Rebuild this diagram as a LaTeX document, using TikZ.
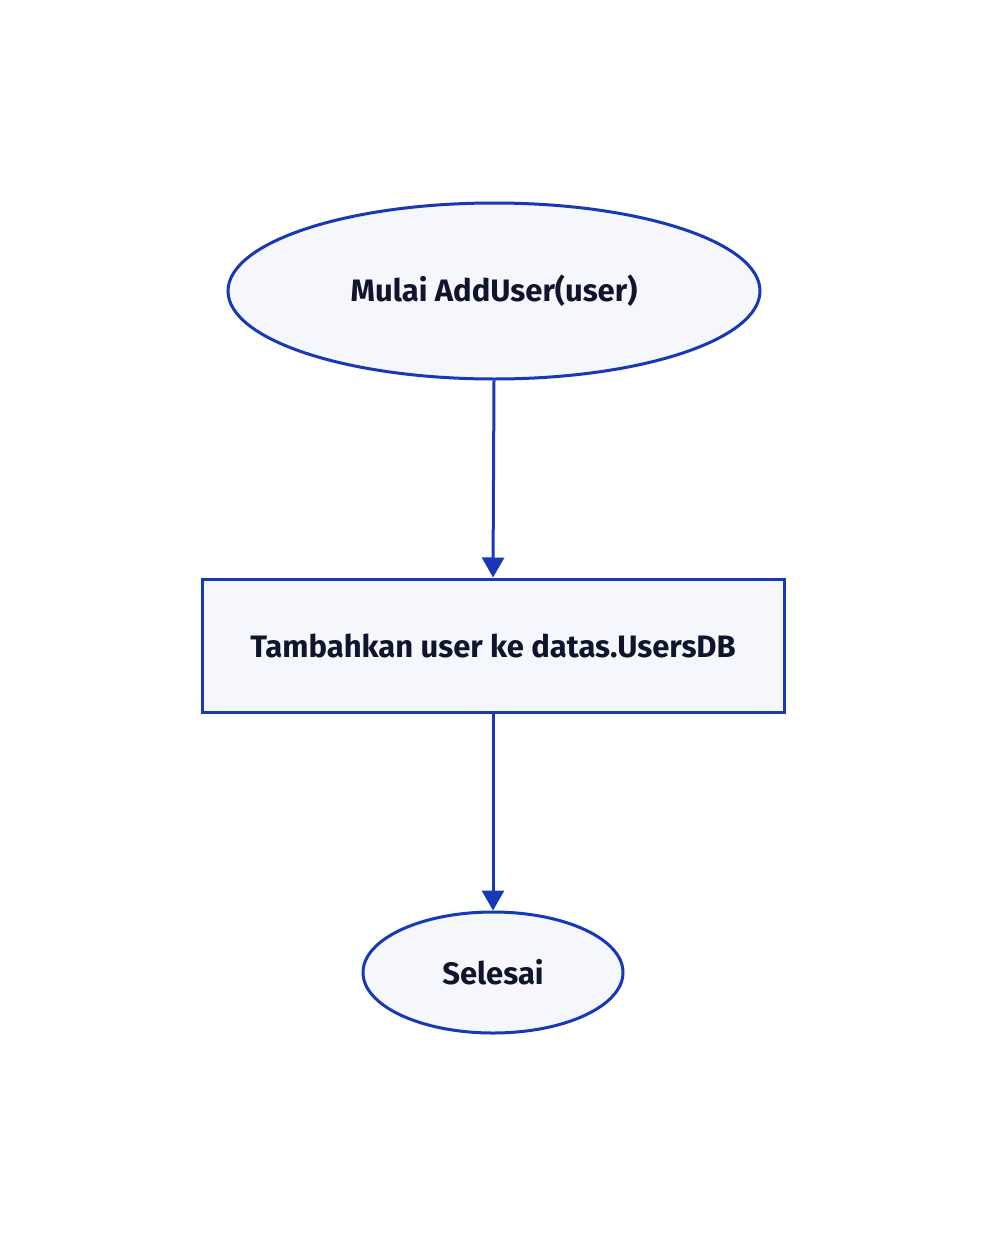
\documentclass[tikz,border=0pt]{standalone}
\usepackage{fontspec}
\setmainfont{Fira Sans}
\usetikzlibrary{shapes.geometric,arrows.meta}
\definecolor{strokeblue}{HTML}{1838B8}
\definecolor{fillpale}{HTML}{F5F7FC}
\definecolor{textdark}{HTML}{10152E}
\tikzset{
  shapebase/.style={draw=strokeblue, line width=3pt, fill=fillpale, text=textdark, font=\fontsize{31}{36}\selectfont\bfseries, inner sep=0pt},
  ovalnode/.style={shapebase, ellipse},
  boxnode/.style={shapebase, rectangle},
  flowarrow/.style={draw=strokeblue, line width=3pt, -{Triangle[width=22pt,length=20pt]}}
}
\begin{document}
\begin{tikzpicture}[x=1pt,y=1pt]
\useasboundingbox (0,0) rectangle (986,-1236);
\fill[white] (0,0) rectangle (986,-1236);
\node[ovalnode, minimum width=532pt, minimum height=176pt] (start) at (494,-291) {Mulai AddUser(user)};
\node[boxnode, minimum width=582pt, minimum height=133pt] (add) at (493,-645.5) {Tambahkan user ke datas.UsersDB};
\node[ovalnode, minimum width=260pt, minimum height=121pt] (end) at (493,-972.5) {Selesai};
\draw[flowarrow] (start.south) -- (add.north);
\draw[flowarrow] (add.south) -- (end.north);
\end{tikzpicture}
\end{document}
